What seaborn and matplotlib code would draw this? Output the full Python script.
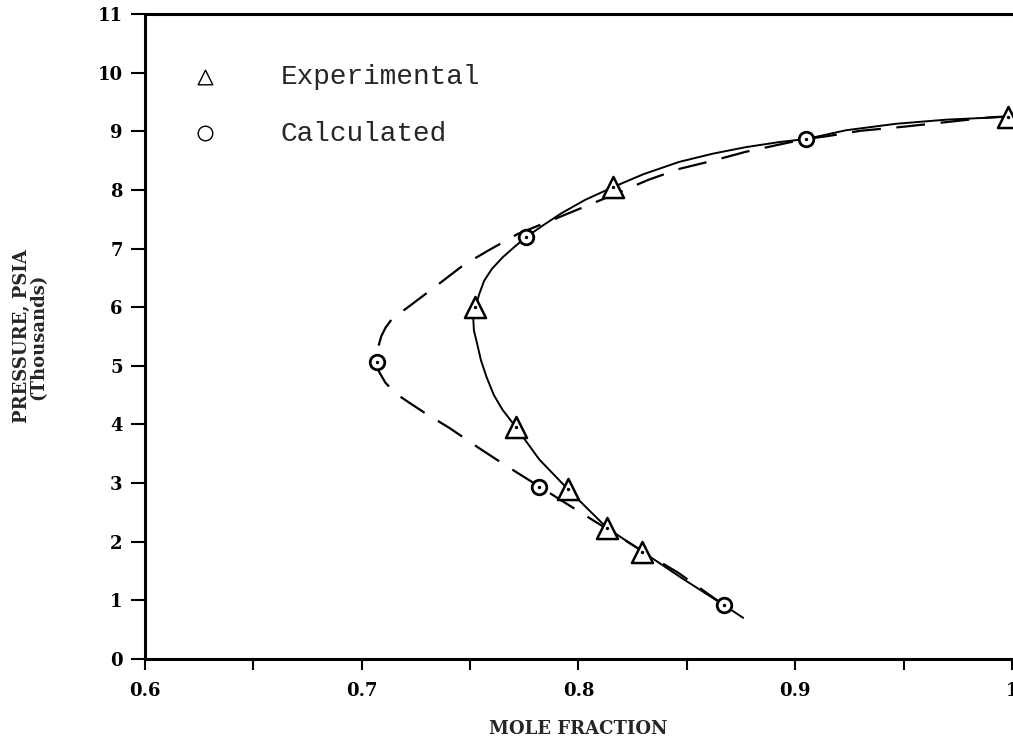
import numpy as np
import pandas as pd
import seaborn as sns
import matplotlib.pyplot as plt

# measured points (mole fraction, pressure in thousands psia)
exp_x = [0.998, 0.816, 0.7525, 0.771, 0.795, 0.813, 0.8295]
exp_y = [9.25, 8.05, 6.0, 3.96, 2.90, 2.24, 1.83]
calc_x = [0.905, 0.776, 0.707, 0.782, 0.867]
calc_y = [8.87, 7.20, 5.07, 2.94, 0.92]

# hand-drawn fitted curves
solid_x = [0.876, 0.867, 0.848, 0.8295, 0.813, 0.795, 0.782, 0.771, 0.765, 0.761,
           0.7576, 0.755, 0.7532, 0.7518, 0.7515, 0.7525, 0.7542, 0.7565, 0.760,
           0.765, 0.7705, 0.776, 0.783, 0.792, 0.803, 0.816, 0.830, 0.8465, 0.862,
           0.877, 0.893, 0.905, 0.9235, 0.9465, 0.9696, 0.998, 1.01]
solid_y = [0.70, 0.92, 1.37, 1.83, 2.24, 2.90, 3.40, 3.96, 4.25, 4.50,
           4.81, 5.10, 5.39, 5.60, 5.80, 6.00, 6.22, 6.45, 6.65,
           6.85, 7.03, 7.20, 7.38, 7.60, 7.83, 8.05, 8.27, 8.48, 8.62,
           8.73, 8.82, 8.87, 9.02, 9.13, 9.20, 9.25, 9.27]
dash_x = [0.867, 0.846, 0.836, 0.81, 0.797, 0.782, 0.766, 0.754, 0.7405, 0.729,
          0.722, 0.716, 0.711, 0.708, 0.707, 0.7075, 0.709, 0.711, 0.714, 0.721,
          0.735, 0.747, 0.759, 0.772, 0.790, 0.815, 0.832, 0.8465, 0.862, 0.877,
          0.897, 0.905, 0.915, 0.93, 0.95, 0.97, 0.99, 1.01]
dash_y = [0.92, 1.47, 1.69, 2.29, 2.59, 2.94, 3.31, 3.60, 3.94, 4.20,
          4.37, 4.52, 4.71, 4.90, 5.07, 5.30, 5.50, 5.65, 5.80, 5.99,
          6.38, 6.72, 6.98, 7.25, 7.52, 7.90, 8.17, 8.36, 8.50, 8.65,
          8.81, 8.87, 8.92, 9.01, 9.08, 9.16, 9.24, 9.28]

x_ticks = [0.6, 0.7, 0.8, 0.9, 1.0]
x_tick_labels = ["0.6", "0.7", "0.8", "0.9", "1"]
y_ticks = list(range(0, 12))

sns.set_style("ticks")
heavy = {"family": "DejaVu Serif", "weight": "heavy"}

fig = plt.figure(figsize=(10.13, 7.47), dpi=100)
ax = fig.add_axes([0.143, 0.118, 0.856, 0.863])

sns.lineplot(x=solid_x, y=solid_y, sort=False, estimator=None, color="black",
             linewidth=1.4, ax=ax)
sns.lineplot(x=dash_x, y=dash_y, sort=False, estimator=None, color="black",
             linewidth=1.6, linestyle=(0, (13, 7)), ax=ax)

sns.scatterplot(x=exp_x, y=exp_y, marker="^", s=230, facecolor="white",
                edgecolor="black", linewidth=1.8, label="Experimental", ax=ax, zorder=5)
sns.scatterplot(x=calc_x, y=calc_y, marker="o", s=110, facecolor="white",
                edgecolor="black", linewidth=2.0, label="Calculated", ax=ax, zorder=5)
# centre dots in the symbols
sns.scatterplot(x=exp_x + calc_x, y=exp_y + calc_y, marker="o", s=6,
                color="black", linewidth=0, ax=ax, zorder=6)

ax.set_xlim(0.6, 1.0)
ax.set_ylim(0, 11)
ax.set_xticks(x_ticks)
ax.set_xticklabels(x_tick_labels, fontdict=heavy, fontsize=13)
ax.set_xticks(np.arange(0.65, 1.0, 0.1), minor=True)
ax.set_yticks(y_ticks)
ax.set_yticklabels([str(v) for v in y_ticks], fontdict=heavy, fontsize=13)
ax.tick_params(axis="both", which="both", direction="out", width=1.5, colors="black")
ax.tick_params(axis="x", which="both", length=8, pad=9)
ax.tick_params(axis="y", length=10, pad=6)

for side in ["left", "bottom", "top"]:
    ax.spines[side].set_linewidth(2.2)
    ax.spines[side].set_color("black")
ax.spines["right"].set_visible(False)

ax.set_xlabel("MOLE FRACTION", fontdict=heavy, fontsize=13, labelpad=14)
ax.set_ylabel("PRESSURE, PSIA\n(Thousands)", fontdict=heavy, fontsize=13,
              labelpad=36, linespacing=0.9)

h, l = ax.get_legend_handles_labels()
leg = ax.legend(h, l, loc="upper left", bbox_to_anchor=(0.025, 0.94),
                frameon=False, borderaxespad=0, handletextpad=1.7,
                handlelength=2.0, labelspacing=1.1,
                prop={"family": "Liberation Mono", "size": 20})
for hd in leg.legend_handles:
    hd.set_sizes([110])
    hd.set_linewidth(1.0)

fig.savefig("out.png", dpi=100)
